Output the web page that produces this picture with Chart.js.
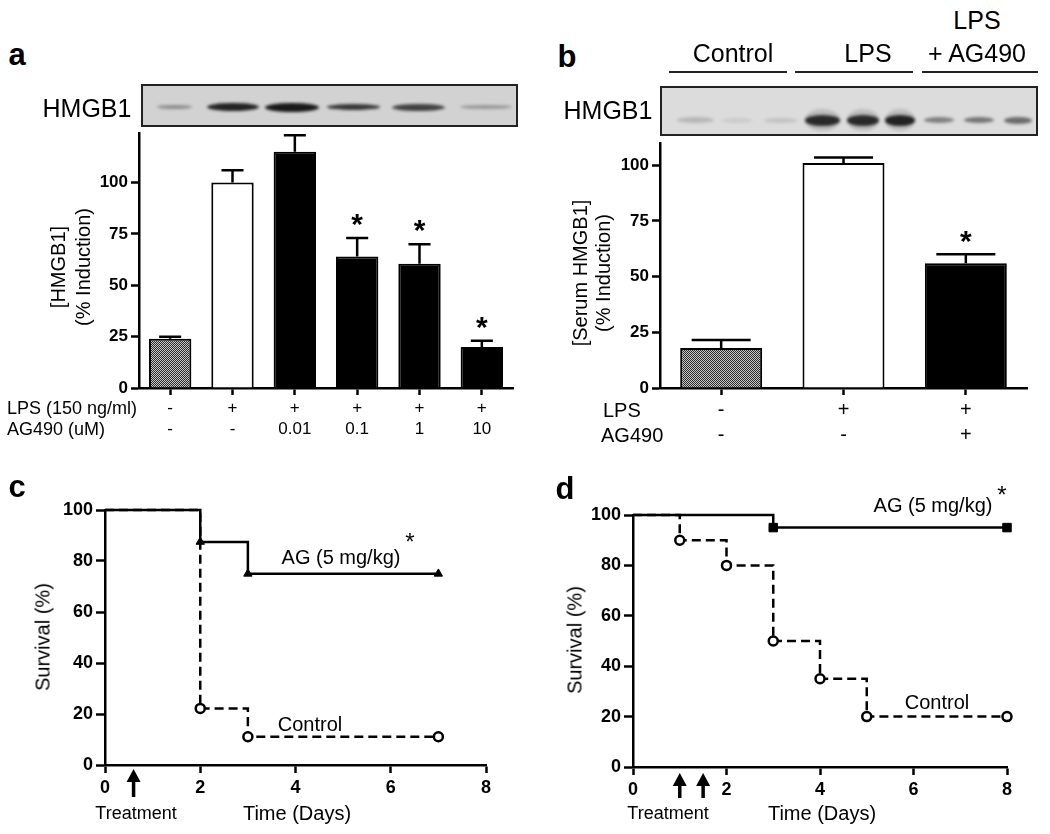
<!DOCTYPE html>
<html>
<head>
<meta charset="utf-8">
<script src="https://cdn.jsdelivr.net/npm/chart.js@4.4.0/dist/chart.umd.min.js"></script>
<style>
body { margin: 0; background: #fff; }
#fig { position: relative; width: 1050px; height: 834px; overflow: hidden; font-family: "Liberation Sans", Arial, sans-serif; color: #000; }
#fig canvas { position: absolute; }
.t { position: absolute; white-space: nowrap; line-height: 1.15; z-index: 5; }
.blot { position: absolute; border: 2px solid #222; box-sizing: border-box; overflow: hidden; }
.band { position: absolute; border-radius: 50%; filter: blur(1.5px); }
.rule { position: absolute; height: 2px; background: #222; }
</style>
</head>
<body>
<div id="fig">
  <canvas id="chartA" width="525" height="320" style="left:0;top:120px"></canvas>
  <canvas id="chartB" width="525" height="330" style="left:525px;top:120px"></canvas>
  <canvas id="chartC" width="525" height="364" style="left:0;top:470px"></canvas>
  <canvas id="chartD" width="525" height="364" style="left:525px;top:470px"></canvas>
</div>
<script>
// panel a - HMGB1 release in vitro
var lpsA = ['-', '+', '+', '+', '+', '+'];
var agA = ['-', '-', '0.01', '0.1', '1', '10'];
var hmgbA = [24, 100, 115, 64, 60.5, 20];
var errA = [1, 6, 8, 9, 9.5, 3];
var starA = [false, false, false, true, true, true];

// panel b - serum HMGB1
var lpsB = ['-', '+', '+'];
var agB = ['-', '-', '+'];
var hmgbB = [18, 101, 56];
var errB = [3.6, 2.5, 4];
var starB = [false, false, true];

// panel c - survival
var daysAgC = [0, 2, 3, 7];
var survAgC = [100, 87.5, 75, 75];
var daysCtlC = [0, 2, 3, 7];
var survCtlC = [100, 22.2, 11.1, 11.1];
var treatC = [0.6];

// panel d - survival
var daysAgD = [0, 3, 8];
var survAgD = [100, 95, 95];
var daysCtlD = [0, 1, 2, 3, 4, 5, 8];
var survCtlD = [100, 90, 80, 50, 35, 20, 20];
var treatD = [1, 1.5];

var FONT = '"Liberation Sans", Arial, sans-serif';
Chart.defaults.font.family = FONT;
Chart.defaults.color = '#000';

var fig = document.getElementById('fig');

function txt(s, x, y, size, opts) {
    opts = opts || {};
    var d = document.createElement('div');
    d.className = 't';
    d.textContent = s;
    d.style.fontSize = size + 'px';
    if (opts.bold) d.style.fontWeight = 'bold';
    d.style.left = x + 'px';
    d.style.top = y + 'px';
    var tr = opts.left ? 'translate(0,-50%)' : 'translate(-50%,-50%)';
    if (opts.rot) tr += ' rotate(-90deg)';
    d.style.transform = tr;
    fig.appendChild(d);
}

function blot(left, top, w, h, bg, lanes, yc) {
    var b = document.createElement('div');
    b.className = 'blot';
    b.style.left = left + 'px'; b.style.top = top + 'px';
    b.style.width = w + 'px'; b.style.height = h + 'px';
    b.style.background = bg;
    lanes.forEach(function (l) {
        var s = document.createElement('div');
        s.className = 'band';
        s.style.left = (l[0] - left) + 'px';
        s.style.width = (l[1] - l[0]) + 'px';
        s.style.height = l[3] + 'px';
        s.style.top = (yc - top - l[3] / 2) + 'px';
        s.style.background = 'rgba(15,15,15,' + l[2] + ')';
        b.appendChild(s);
    });
    fig.appendChild(b);
}

function rule(x0, x1, y) {
    var r = document.createElement('div');
    r.className = 'rule';
    r.style.left = x0 + 'px'; r.style.width = (x1 - x0) + 'px'; r.style.top = y + 'px';
    fig.appendChild(r);
}

// stipple fill for control bars
var tile = document.createElement('canvas');
tile.width = 2; tile.height = 2;
var tg = tile.getContext('2d');
tg.fillStyle = '#2a2a2a'; tg.fillRect(0, 0, 2, 2);
tg.fillStyle = '#c8c8c8'; tg.fillRect(0, 0, 1, 1); tg.fillRect(1, 1, 1, 1);
var stipple = tile.getContext('2d').createPattern(tile, 'repeat');

var errorBars = {
    id: 'errorBars',
    afterDatasetsDraw: function (chart, args, o) {
        var ctx = chart.ctx, y = chart.scales.y;
        chart.getDatasetMeta(0).data.forEach(function (bar, i) {
            var top = y.getPixelForValue(o.values[i] + o.errors[i]);
            var half = bar.width * o.cap / 2;
            ctx.save();
            ctx.strokeStyle = '#000';
            ctx.lineWidth = 2.5;
            ctx.beginPath();
            ctx.moveTo(bar.x, bar.y);
            ctx.lineTo(bar.x, top);
            ctx.moveTo(bar.x - half, top);
            ctx.lineTo(bar.x + half, top);
            ctx.stroke();
            if (o.stars[i]) {
                ctx.fillStyle = '#000';
                ctx.font = 'bold 30px ' + FONT;
                ctx.textAlign = 'center';
                ctx.textBaseline = 'middle';
                ctx.fillText('*', bar.x, top - 12);
            }
            ctx.restore();
        });
    }
};

var treatArrows = {
    id: 'treatArrows',
    afterDraw: function (chart, args, o) {
        var ctx = chart.ctx, x = chart.scales.x, base = chart.chartArea.bottom;
        o.days.forEach(function (d) {
            var px = x.getPixelForValue(d);
            var tip = base + o.gap, end = tip + o.len;
            ctx.save();
            ctx.fillStyle = '#000';
            ctx.strokeStyle = '#000';
            ctx.lineWidth = 3.5;
            ctx.beginPath();
            ctx.moveTo(px, tip + 8);
            ctx.lineTo(px, end);
            ctx.stroke();
            ctx.beginPath();
            ctx.moveTo(px, tip);
            ctx.lineTo(px - 7, tip + 13);
            ctx.lineTo(px + 7, tip + 13);
            ctx.closePath();
            ctx.fill();
            ctx.restore();
        });
    }
};

function axisY(max, step, leftW, fontSize, tickLen) {
    return {
        min: 0, max: max,
        afterFit: function (s) { s.width = leftW; },
        afterBuildTicks: function (s) { s.ticks = s.ticks.filter(function (t) { return t.value % step === 0; }); },
        ticks: { stepSize: step, font: { size: fontSize, weight: 'bold' }, padding: 3, color: '#000' },
        grid: { drawOnChartArea: false, tickLength: tickLen, tickWidth: 2.5, tickColor: '#000' },
        border: { display: true, width: 2.5, color: '#000' }
    };
}

function barChart(id, rows1, rows2, vals, errs, stars, fills, opt) {
    return new Chart(document.getElementById(id), {
        type: 'bar',
        data: {
            labels: rows1.map(function (v, i) { return [v, rows2[i]]; }),
            datasets: [{
                data: vals,
                backgroundColor: fills,
                borderColor: '#000',
                borderWidth: 2,
                borderSkipped: 'bottom',
                barPercentage: opt.barPct,
                categoryPercentage: 1
            }]
        },
        options: {
            responsive: false,
            animation: false,
            layout: { padding: opt.pad },
            plugins: {
                legend: { display: false },
                tooltip: { enabled: false },
                errorBars: { values: vals, errors: errs, stars: stars, cap: opt.cap }
            },
            scales: {
                x: {
                    offset: true,
                    afterFit: function (s) { s.height = opt.xH; },
                    ticks: { autoSkip: false, maxRotation: 0, padding: 3, font: { size: opt.labSize, lineHeight: opt.labLH }, color: '#000' },
                    grid: { offset: false, drawOnChartArea: false, tickLength: 7, tickWidth: 2.5, tickColor: '#000' },
                    border: { display: true, width: 2.5, color: '#000' }
                },
                y: axisY(opt.max, 25, opt.yW, 17, 8)
            }
        },
        plugins: [errorBars]
    });
}

function pts(xs, ys) {
    return xs.map(function (x, i) { return { x: x, y: ys[i] }; });
}

function survivalChart(id, agX, agY, agStyle, agR, ctlX, ctlY, treat, opt) {
    return new Chart(document.getElementById(id), {
        type: 'line',
        data: {
            datasets: [{
                data: pts(agX, agY),
                borderColor: '#000',
                borderWidth: 2.5,
                stepped: 'before',
                pointStyle: agStyle,
                pointRadius: agX.map(function (x, i) { return i === 0 ? 0 : agR; }),
                pointBackgroundColor: '#000',
                pointBorderColor: '#000',
                pointBorderWidth: 1,
                clip: false
            }, {
                data: pts(ctlX, ctlY),
                borderColor: '#000',
                borderWidth: 2.5,
                borderDash: [9, 5],
                stepped: 'before',
                pointStyle: 'circle',
                pointRadius: ctlX.map(function (x, i) { return i === 0 ? 0 : 4.5; }),
                pointBorderWidth: 2.5,
                pointBackgroundColor: '#fff',
                pointBorderColor: '#000',
                clip: false
            }]
        },
        options: {
            responsive: false,
            animation: false,
            layout: { padding: opt.pad },
            plugins: {
                legend: { display: false },
                tooltip: { enabled: false },
                treatArrows: { days: treat, gap: opt.gap, len: opt.len }
            },
            scales: {
                x: {
                    type: 'linear', min: 0, max: 8,
                    afterFit: function (s) { s.height = opt.xH; },
                    ticks: { stepSize: 2, padding: 4, font: { size: 18, weight: 'bold' }, color: '#000' },
                    grid: { drawOnChartArea: false, tickLength: 8, tickWidth: 2.5, tickColor: '#000' },
                    border: { display: true, width: 2.5, color: '#000' }
                },
                y: axisY(100, 20, opt.yW, 18, 9)
            }
        },
        plugins: [treatArrows]
    });
}

// blots and header decorations
blot(141, 84, 377, 43, '#d2d2d2', [
    [155, 190, 0.35, 4], [205, 257, 0.9, 8], [263, 317, 0.95, 9],
    [325, 378, 0.8, 6], [390, 443, 0.75, 7], [458, 510, 0.3, 4]
], 105);
blot(660, 86, 378, 50, '#dcdcdc', [
    [803, 838, 0.15, 22], [845, 877, 0.15, 22], [883, 913, 0.15, 22],
    [675, 712, 0.18, 6], [720, 750, 0.08, 5], [762, 795, 0.12, 5],
    [803, 838, 0.85, 11], [845, 877, 0.85, 11], [883, 913, 0.9, 11],
    [922, 952, 0.45, 6], [962, 992, 0.5, 6], [1002, 1030, 0.55, 7]
], 118);
rule(669, 787, 71);
rule(795, 913, 71);
rule(922, 1038, 71);

barChart('chartA', lpsA, agA, hmgbA, errA, starA,
    [stipple, '#fff', '#000', '#000', '#000', '#000'],
    { pad: { left: 0, top: 13, right: 12, bottom: 0 }, yW: 139, xH: 52, max: 124, barPct: 0.68, cap: 0.52, labSize: 17, labLH: 1.24 });

barChart('chartB', lpsB, agB, hmgbB, errB, starB,
    [stipple, '#fff', '#000'],
    { pad: { left: 0, top: 23, right: 23, bottom: 0 }, yW: 135, xH: 62, max: 110, barPct: 0.67, cap: 0.72, labSize: 20, labLH: 1.25 });

survivalChart('chartC', daysAgC, survAgC, 'triangle', 4.8, daysCtlC, survCtlC, treatC,
    { pad: { left: 0, top: 40, right: 39, bottom: 0 }, yW: 105, xH: 69, gap: 4, len: 28 });

survivalChart('chartD', daysAgD, survAgD, 'rect', 6, daysCtlD, survCtlD, treatD,
    { pad: { left: 0, top: 45, right: 43, bottom: 0 }, yW: 108, xH: 67, gap: 6, len: 25 });

// text
txt('a', 17, 55, 31, { bold: true });
txt('HMGB1', 87, 108, 25);
txt('[HMGB1]', 58, 267, 20, { rot: true });
txt('(% Induction)', 83, 267, 20, { rot: true });
txt('LPS (150 ng/ml)', 7, 408, 18, { left: true });
txt('AG490 (uM)', 7, 429, 18, { left: true });

txt('b', 567, 57, 31, { bold: true });
txt('Control', 733, 53, 25);
txt('LPS', 868, 53, 25);
txt('LPS', 977, 20, 25);
txt('+ AG490', 977, 53, 25);
txt('HMGB1', 608, 110, 25);
txt('[Serum HMGB1]', 580, 273, 20, { rot: true });
txt('(% Induction)', 603, 273, 20, { rot: true });
txt('LPS', 603, 410, 20, { left: true });
txt('AG490', 601, 435, 20, { left: true });

txt('c', 17, 487, 31, { bold: true });
txt('Survival (%)', 43, 637, 20, { rot: true });
txt('AG (5 mg/kg)', 341, 557, 20);
txt('*', 410, 542, 24);
txt('Control', 310, 724, 20);
txt('Treatment', 136, 813, 18);
txt('Time (Days)', 297, 813, 20);

txt('d', 565, 489, 31, { bold: true });
txt('Survival (%)', 575, 640, 20, { rot: true });
txt('AG (5 mg/kg)', 933, 505, 20);
txt('*', 1002, 495, 24);
txt('Control', 937, 702, 20);
txt('Treatment', 668, 813, 18);
txt('Time (Days)', 822, 813, 20);
</script>
</body>
</html>
